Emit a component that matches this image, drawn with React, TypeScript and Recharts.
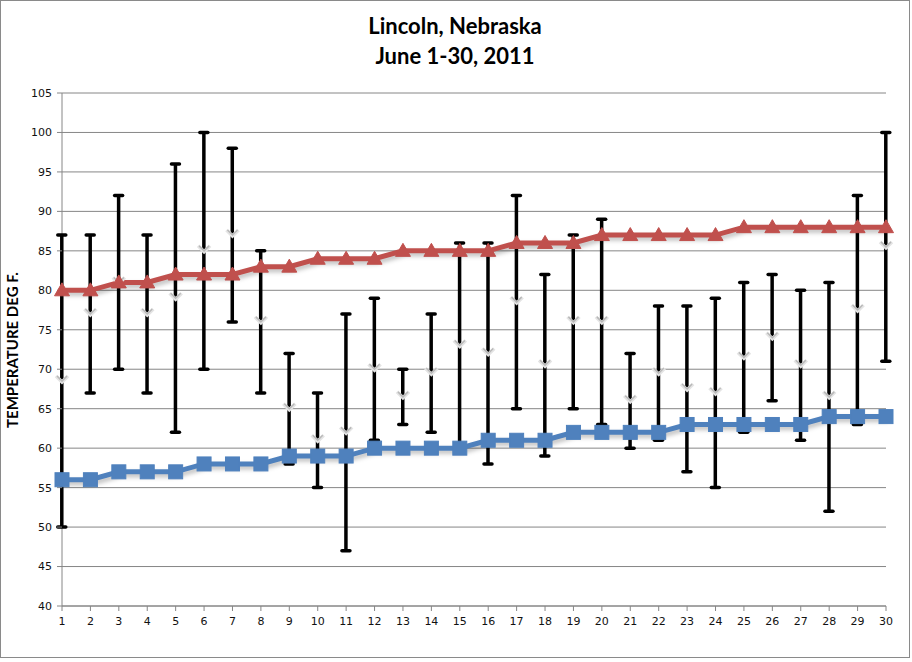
import React from 'react';
import { ComposedChart, Line, Bar, XAxis, YAxis, CartesianGrid } from 'recharts';

const days = [1,2,3,4,5,6,7,8,9,10,11,12,13,14,15,16,17,18,19,20,21,22,23,24,25,26,27,28,29,30];
const normalHigh = [80,80,81,81,82,82,82,83,83,84,84,84,85,85,85,85,86,86,86,87,87,87,87,87,88,88,88,88,88,88];
const normalLow = [56,56,57,57,57,58,58,58,59,59,59,60,60,60,60,61,61,61,62,62,62,62,63,63,63,63,63,64,64,64];
const dailyHigh = [87,87,92,87,96,100,98,85,72,67,77,79,70,77,86,86,92,82,87,89,72,78,78,79,81,82,80,81,92,100];
const dailyLow = [50,67,70,67,62,70,76,67,58,55,47,61,63,62,60,58,65,59,65,63,60,61,57,55,62,66,61,52,63,71];
const dailyMean = [68.5,77,81,77,79,85,87,76,65,61,62,70,66.5,69.5,73,72,78.5,70.5,76,76,66,69.5,67.5,67,71.5,74,70.5,66.5,77.5,85.5];
const yTicks = [40,45,50,55,60,65,70,75,80,85,90,95,100,105];

const data = days.map((d, i) => ({
  day: d,
  hi: normalHigh[i],
  lo: normalLow[i],
  mean: dailyMean[i],
  range: [dailyLow[i], dailyHigh[i]],
}));

const FONT = 'Lato, "Open Sans", sans-serif';
const TICKFONT = '"DejaVu Sans", Verdana, sans-serif';

const Triangle = (props: any) => {
  const { cx, cy } = props;
  if (cx == null || cy == null) return null;
  return <path d={`M${cx},${cy - 7.5} L${cx + 7.5},${cy + 5.5} L${cx - 7.5},${cy + 5.5} Z`} fill="#C0504D" stroke="#C0504D" strokeWidth={1} />;
};

const Square = (props: any) => {
  const { cx, cy } = props;
  if (cx == null || cy == null) return null;
  return <rect x={cx - 7} y={cy - 7} width={14} height={14} fill="#4F81BD" stroke="#4F81BD" strokeWidth={1} />;
};

const Chevron = (props: any) => {
  const { cx, cy } = props;
  if (cx == null || cy == null) return null;
  return (
    <g>
      <path d={`M${cx - 6},${cy - 5} L${cx},${cy + 1} L${cx + 6},${cy - 5}`} fill="none" stroke="#e4e4e4" strokeWidth={3.5} />
      <path d={`M${cx - 5},${cy - 5} L${cx},${cy} L${cx + 5},${cy - 5}`} fill="none" stroke="#b8b8b8" strokeWidth={1.5} />
    </g>
  );
};

const RangeBar = (props: any) => {
  const { x, y, width, height } = props;
  if (x == null || y == null) return null;
  const cx = x + width / 2;
  const top = Math.min(y, y + height);
  const bottom = Math.max(y, y + height);
  return (
    <g>
      <line x1={cx} y1={top} x2={cx} y2={bottom} stroke="#000" strokeWidth={3.5} />
      <line x1={cx - 4} y1={top} x2={cx + 4} y2={top} stroke="#000" strokeWidth={3.5} strokeLinecap="round" />
      <line x1={cx - 4} y1={bottom} x2={cx + 4} y2={bottom} stroke="#000" strokeWidth={3.5} strokeLinecap="round" />
    </g>
  );
};

export default function App() {
  return (
    <div style={{ position: 'absolute', left: 0, top: 0, width: 912, height: 662, background: '#fff', fontFamily: FONT }}>
      <style>{`.shadowLine { filter: drop-shadow(2px 3px 2px rgba(0,0,0,0.25)); } .recharts-surface { overflow: visible; } .recharts-layer, .recharts-bar, .recharts-bar-rectangles, .recharts-bar-rectangle, .recharts-bar g { clip-path: none !important; }`}</style>
      <div style={{ position: 'absolute', left: 0, top: 0, width: 910, height: 658, border: '1px solid #8a8a8a', boxSizing: 'border-box' }} />
      <div style={{ position: 'absolute', left: 0, top: 0 }}>
        <ComposedChart width={912} height={662} data={data} margin={{ top: 93, right: 26, bottom: 26, left: 22 }}>
          <text x={455} y={34} textAnchor="middle" style={{ fontFamily: FONT, fontSize: 22, fontWeight: 700 }} fill="#000">Lincoln, Nebraska</text>
          <text x={455} y={64} textAnchor="middle" style={{ fontFamily: FONT, fontSize: 22, fontWeight: 700 }} fill="#000">June 1-30, 2011</text>
          <text x={18} y={350} textAnchor="middle" transform="rotate(-90 18 350)" style={{ fontFamily: FONT, fontSize: 15, fontWeight: 700 }} fill="#000">TEMPERATURE DEG F.</text>
          <CartesianGrid vertical={true} verticalValues={[1]} stroke="#868686" strokeWidth={1} />
          <XAxis
            dataKey="day"
            type="number"
            domain={[1, 30]}
            ticks={days}
            interval={0}
            height={30}
            axisLine={{ stroke: '#868686' }}
            tickLine={{ stroke: '#868686' }}
            tickSize={5}
            tickMargin={6}
            tick={{ fill: '#111', fontSize: 11, fontFamily: TICKFONT }}
            allowDecimals={false}
          />
          <YAxis
            type="number"
            domain={[40, 105]}
            ticks={yTicks}
            interval={0}
            width={40}
            axisLine={false}
            tickLine={{ stroke: '#868686' }}
            tickSize={5}
            tickMargin={5}
            tick={{ fill: '#111', fontSize: 11, fontFamily: TICKFONT }}
          />
          <Line dataKey="mean" stroke="none" dot={<Chevron />} activeDot={false} isAnimationActive={false} />
          <Bar dataKey="range" barSize={8} shape={<RangeBar />} isAnimationActive={false} />
          <Line className="shadowLine" dataKey="lo" stroke="#4F81BD" strokeWidth={5} dot={<Square />} activeDot={false} isAnimationActive={false} />
          <Line className="shadowLine" dataKey="hi" stroke="#C0504D" strokeWidth={5} dot={<Triangle />} activeDot={false} isAnimationActive={false} />
        </ComposedChart>
      </div>
    </div>
  );
}
